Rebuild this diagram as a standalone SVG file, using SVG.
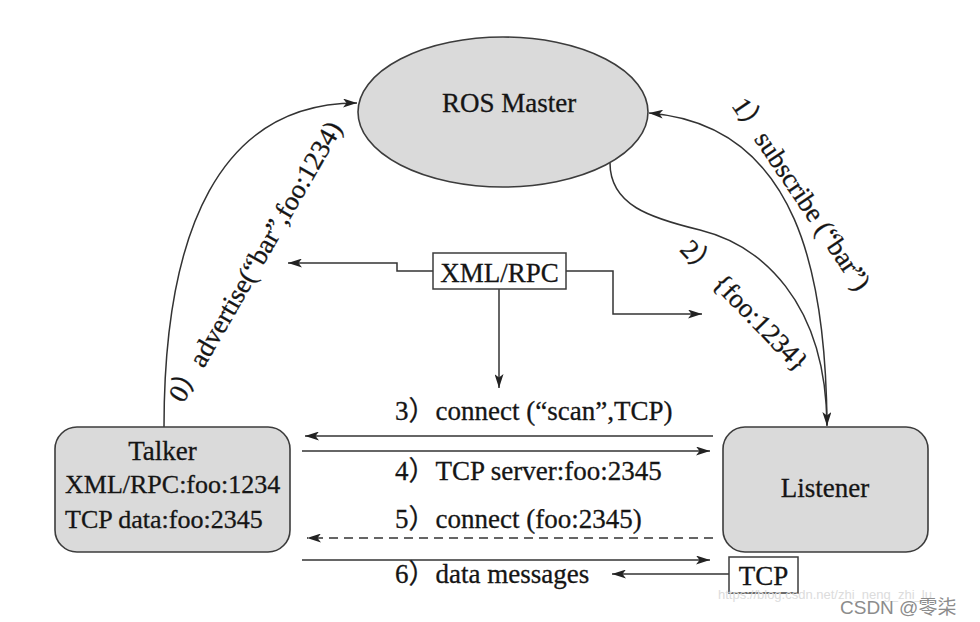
<svg xmlns="http://www.w3.org/2000/svg" width="980" height="622" viewBox="0 0 980 622">
<style>
  .node { fill:#dadada; stroke:#3c3c3c; stroke-width:1.6; }
  .box { fill:#ffffff; stroke:#3c3c3c; stroke-width:1.5; }
  .conn { fill:none; stroke:#333333; stroke-width:1.5; }
  .dash { stroke-dasharray:9 6; }
  .lbl { font-family:"Liberation Serif","Noto Sans CJK SC",serif; font-size:27px; fill:#151515; stroke:#151515; stroke-width:0.3; }
  .sm { font-size:26px; }
  .wm1 { font-family:"Liberation Sans",sans-serif; font-size:13px; fill:#dcdcdc; }
  .wm2 { font-family:"Liberation Sans","Noto Sans CJK SC",sans-serif; font-size:19px; fill:#8c8c8c; }
</style>
<defs>
  <marker id="arr" viewBox="0 0 14 9" refX="14" refY="4.5" markerWidth="14" markerHeight="9" orient="auto" markerUnits="userSpaceOnUse">
    <path d="M0,0 L14,4.5 L0,9 L3.5,4.5 z" fill="#222222"/>
  </marker>
</defs>
<rect width="980" height="622" fill="#ffffff"/>

<g id="connectors">
  <path class="conn" d="M164,427 C164,230 220,103 357,103" marker-end="url(#arr)"/>
  <path class="conn" d="M827,425 C826,280 800,125 649,113" marker-end="url(#arr)"/>
  <path class="conn" d="M610,163 C610,205 650,218 700,230 C760,245 826,300 827,426" marker-end="url(#arr)"/>
  <path class="conn" d="M433,271 H397 V263 H288" marker-end="url(#arr)"/>
  <path class="conn" d="M566,271 H613 V314 H702" marker-end="url(#arr)"/>
  <path class="conn" d="M499,289 V388" marker-end="url(#arr)"/>
  <path class="conn" d="M713,436 H305" marker-end="url(#arr)"/>
  <path class="conn" d="M302,451 H710" marker-end="url(#arr)"/>
  <path class="conn dash" d="M713,538 H307" marker-end="url(#arr)"/>
  <path class="conn" d="M302,560 H710" marker-end="url(#arr)"/>
  <path class="conn" d="M729,574 H612" marker-end="url(#arr)"/>

  <text class="lbl" text-anchor="middle" transform="translate(263,266) rotate(-60)">0）advertise(“bar”,foo:1234)</text>
  <text class="lbl" text-anchor="middle" transform="translate(794,199) rotate(56)">1）subscribe (“bar”)</text>
  <text class="lbl" text-anchor="middle" transform="translate(738,312) rotate(46)">2） {foo:1234}</text>
  <text class="lbl" x="395" y="420">3）connect (“scan”,TCP)</text>
  <text class="lbl" x="395" y="480">4）TCP server:foo:2345</text>
  <text class="lbl" x="395" y="528">5）connect (foo:2345)</text>
  <text class="lbl" x="395" y="583">6）data messages</text>
</g>

<g id="ros-master">
  <ellipse class="node" cx="503" cy="112" rx="145" ry="75"/>
  <text class="lbl" x="509" y="112" text-anchor="middle">ROS Master</text>
</g>

<g id="talker">
  <rect class="node" x="55" y="427" width="235" height="125" rx="22"/>
  <text class="lbl" x="162.5" y="460" text-anchor="middle">Talker</text>
  <text class="lbl sm" x="65" y="493">XML/RPC:foo:1234</text>
  <text class="lbl sm" x="65" y="528">TCP data:foo:2345</text>
</g>

<g id="listener">
  <rect class="node" x="723" y="427" width="205" height="125" rx="22"/>
  <text class="lbl" x="825" y="497" text-anchor="middle">Listener</text>
</g>

<g id="xmlrpc">
  <rect class="box" x="433" y="253" width="133" height="36"/>
  <text class="lbl" x="499.5" y="282" text-anchor="middle">XML/RPC</text>
</g>

<g id="tcp">
  <rect class="box" x="729" y="557" width="69" height="36"/>
  <text class="lbl" x="763.5" y="585" text-anchor="middle">TCP</text>
</g>

<g id="watermark">
  <text class="wm1" x="718" y="599">https://blog.csdn.net/zhi_neng_zhi_lu</text>
  <text class="wm2" x="840" y="614">CSDN @零柒</text>
</g>
</svg>
